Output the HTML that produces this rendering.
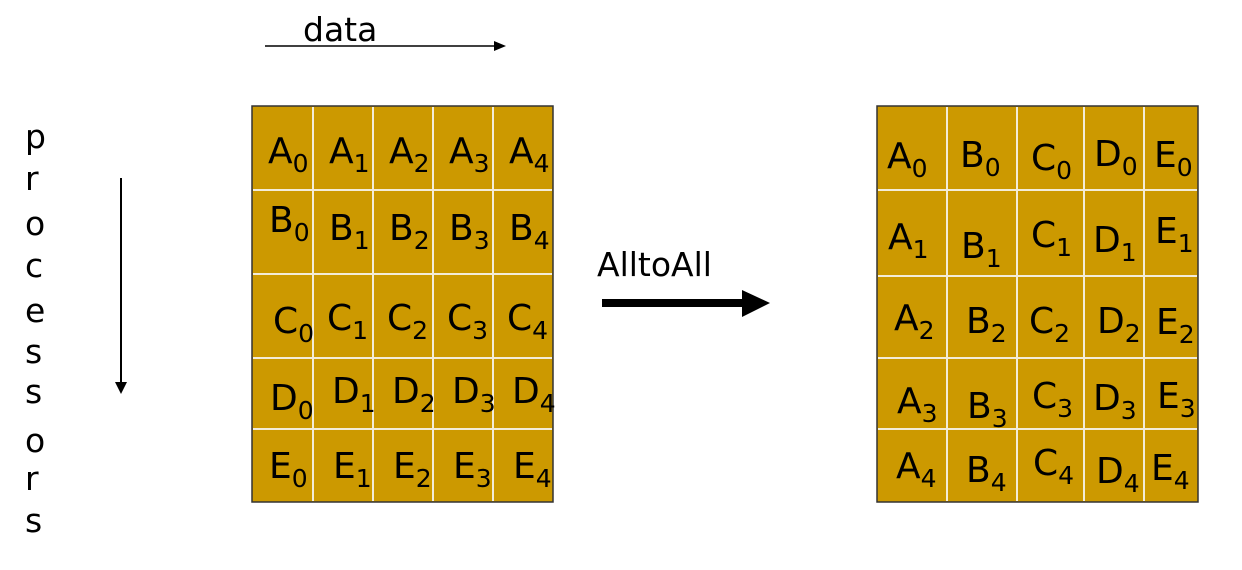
<!DOCTYPE html>
<html><head><meta charset="utf-8"><style>
html,body{margin:0;padding:0;background:#fff;width:1242px;height:570px;overflow:hidden}
svg{display:block;font-family:"DejaVu Sans","Liberation Sans",sans-serif}
</style></head><body>
<svg id="s" width="1242" height="570" viewBox="0 0 1242 570">
<text x="303" y="41" font-size="33">data</text>
<line x1="265" y1="46" x2="496" y2="46" stroke="#000" stroke-width="1.5"/>
<polygon points="506,46 494,41 494,51" fill="#000"/>
<line x1="121" y1="178" x2="121" y2="383" stroke="#000" stroke-width="2"/>
<polygon points="121,394 115,382 127,382" fill="#000"/>
<text x="597" y="276" font-size="33">AlltoAll</text>
<rect x="602" y="299" width="142" height="8" fill="#000"/>
<polygon points="770,303 742,290 742,317" fill="#000"/>
<g id="left"></g>
<g id="right"></g>
<g id="proc"></g>
</svg>
<script>
const procLetters=["p","r","o","c","e","s","s","o","r","s"];
const procBaselines=[148,190,235,277,322,363,403,452,490,532];
const leftCols=[252,313,373,433,493,553];
const leftRows=[106,190,274,358,429,502];
const rightCols=[877,947,1017,1084,1144,1198];
const rightRows=[106,190,276,358,429,502];
const leftLabels=[
["A0",268,163],["A1",329,163],["A2",389,163],["A3",449,163],["A4",509,163],
["B0",269,232],["B1",329,240],["B2",389,240],["B3",449,240],["B4",509,240],
["C0",273,333],["C1",327,330],["C2",387,330],["C3",447,330],["C4",507,330],
["D0",270,410],["D1",332,403],["D2",392,403],["D3",452,403],["D4",512,403],
["E0",269,478],["E1",333,478],["E2",393,478],["E3",453,478],["E4",513,478]];
const rightLabels=[
["A0",887,168],["B0",960,167],["C0",1031,170],["D0",1094,166],["E0",1154,167],
["A1",888,249],["B1",961,258],["C1",1031,247],["D1",1093,252],["E1",1155,243],
["A2",894,330],["B2",966,333],["C2",1029,333],["D2",1097,333],["E2",1156,334],
["A3",897,413],["B3",967,418],["C3",1032,408],["D3",1093,410],["E3",1157,408],
["A4",896,478],["B4",966,482],["C4",1033,475],["D4",1096,483],["E4",1151,480]];
const NS="http://www.w3.org/2000/svg";
function mk(t,a){const e=document.createElementNS(NS,t);for(const k in a)e.setAttribute(k,a[k]);return e;}
function grid(g,cols,rows,labels){
  const bg=mk("rect",{x:cols[0],y:rows[0],width:cols[cols.length-1]-cols[0],height:rows[rows.length-1]-rows[0],fill:"#CC9900",stroke:"#333",'stroke-width':1.5});
  
  
  g.appendChild(bg);
  for(let i=1;i<cols.length-1;i++){const l=mk("line",{x1:cols[i],x2:cols[i],y1:rows[0]+1,y2:rows[rows.length-1]-1,stroke:"#f3ecd8",'stroke-width':2});
    
    
    g.appendChild(l);}
  for(let i=1;i<rows.length-1;i++){const l=mk("line",{x1:cols[0]+1,x2:cols[cols.length-1]-1,y1:rows[i],y2:rows[i],stroke:"#f3ecd8",'stroke-width':2});
    
    
    g.appendChild(l);}
  labels.forEach(([s,x,y])=>{
    const t=mk("text",{x:x,y:y,'font-size':36,fill:"#000"});
    
    
    t.appendChild(document.createTextNode(s[0]));
    const sub=mk("tspan",{'font-size':25,dy:9});
    sub.textContent=s[1];
    t.appendChild(sub);
    g.appendChild(t);
  });
}
grid(document.getElementById("left"),leftCols,leftRows,leftLabels);
grid(document.getElementById("right"),rightCols,rightRows,rightLabels);
const pg=document.getElementById("proc");
procLetters.forEach((c,i)=>{
  const t=mk("text",{x:25,y:procBaselines[i],'font-size':33});
  
  
  t.textContent=c;pg.appendChild(t);
});
</script>
</body></html>
